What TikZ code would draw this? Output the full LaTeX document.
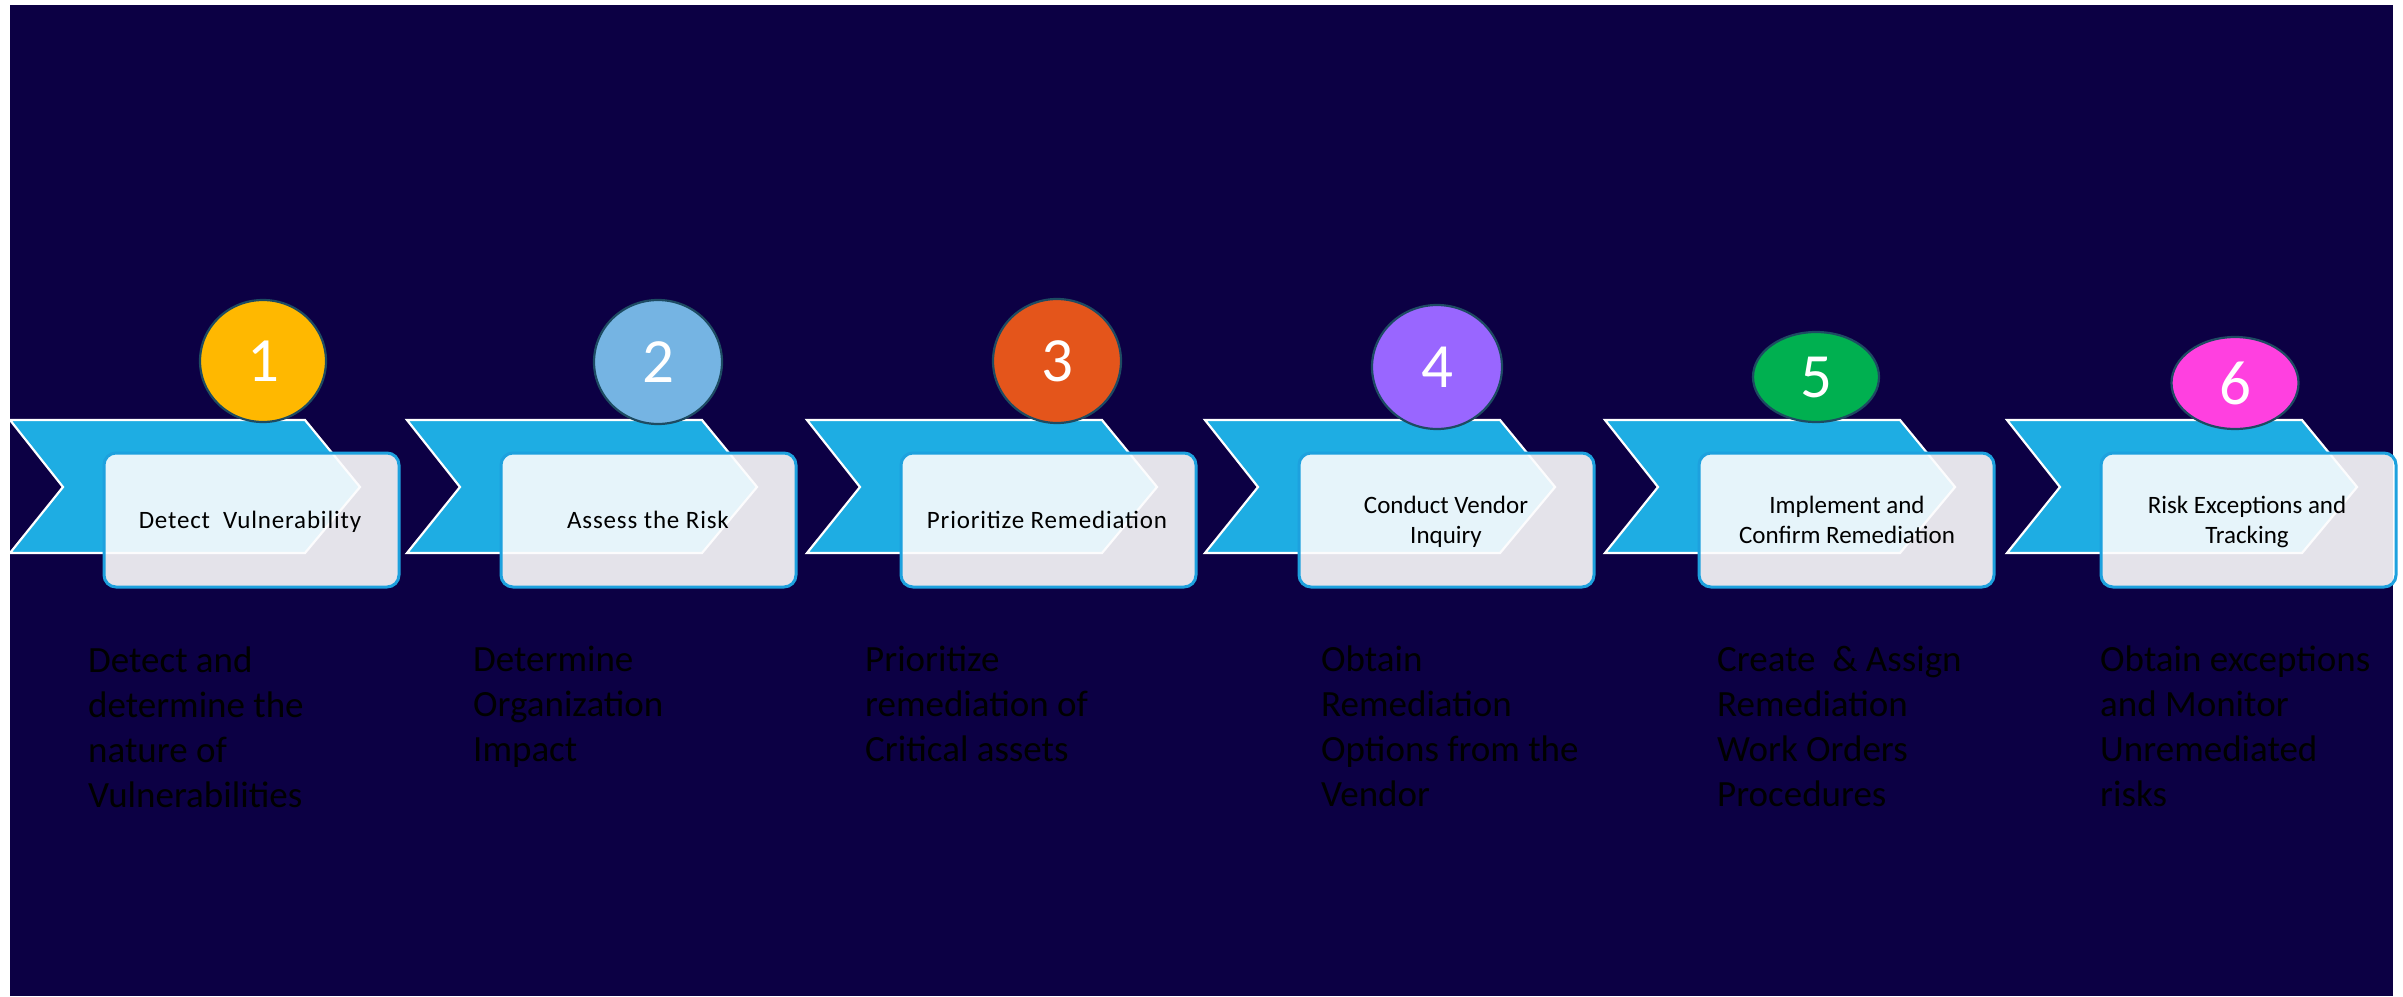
\documentclass[tikz,border=0pt]{standalone}
\usepackage{fontspec}
\setmainfont{Carlito}
\newfontfamily\spacedfont[LetterSpace=3.3]{Carlito}
\usetikzlibrary{shapes.geometric}
\definecolor{pagenavy}{HTML}{0C0044}
\definecolor{chevblue}{HTML}{1EADE3}
\definecolor{cardedge}{HTML}{1DA1DE}
\definecolor{cardfill}{RGB}{252,252,253}
\definecolor{ringedge}{HTML}{1D4B62}
\definecolor{cA}{HTML}{FFB800}
\definecolor{cB}{HTML}{75B4E3}
\definecolor{cC}{HTML}{E4551B}
\definecolor{cD}{HTML}{9966FF}
\definecolor{cE}{HTML}{00B050}
\definecolor{cF}{HTML}{FF40E0}
\tikzset{
  chev/.style={fill=chevblue, draw=white, line width=2.2pt, line join=miter},
  card/.style={rectangle, rounded corners=12pt, draw=cardedge, line width=3pt,
    fill=cardfill, fill opacity=0.9, minimum width=295pt, minimum height=134pt,
    inner sep=0pt},
  badge/.style={ellipse, draw=ringedge, line width=2.2pt, inner sep=0pt,
    text=white, font=\fontsize{63}{70}\selectfont},
  steplabel/.style={inner sep=0pt, text=black, align=center,
    font=\fontsize{25}{30}\selectfont},
  spacedlabel/.style={steplabel, font=\spacedfont\fontsize{25}{30}\selectfont},
  desc/.style={inner sep=0pt, text=black, align=left, anchor=north west,
    font=\fontsize{37}{45}\selectfont},
}
\begin{document}
\begin{tikzpicture}[x=1pt,y=-1pt]
\useasboundingbox (0,0) rectangle (2403,996);
\fill[white] (0,0) rectangle (2403,996);
\fill[pagenavy] (10,5) rectangle (2393,996);

% chevrons and cards, one per step
\foreach \L/\n in {10/1,407/2,807/3,1205/4,1605/5,2007/6}{
  \draw[chev] (\L,420) -- ++(295,0) -- ++(55,67) -- ++(-55,66) -- ++(-295,0)
    -- ++(53,-66) -- cycle;
  \node[card] (card\n) at (\L+241.5,520) {};
}

% numbered badges
\node[badge, fill=cA, minimum width=126pt, minimum height=122pt] (b1) at (263,361) {1};
\node[badge, fill=cB, minimum width=128pt, minimum height=124pt] (b2) at (658,362) {2};
\node[badge, fill=cC, minimum width=128pt, minimum height=124pt] (b3) at (1057,361) {3};
\node[badge, fill=cD, minimum width=130pt, minimum height=124pt] (b4) at (1437,367) {4};
\node[badge, fill=cE, minimum width=126pt, minimum height=90pt] (b5) at (1816,377) {5};
\node[badge, fill=cF, minimum width=127pt, minimum height=92pt] (b6) at (2235,383) {6};

% step titles
\node[spacedlabel, anchor=base] (t1) at (250,528) {Detect\ \ Vulnerability};
\node[spacedlabel, anchor=base] (t2) at (648,528) {Assess the Risk};
\node[spacedlabel, anchor=base] (t3) at (1047,528) {Prioritize Remediation};
\node[steplabel, anchor=north] (t4) at (1446,513-21) {\strut Conduct Vendor\\Inquiry};
\node[steplabel, anchor=north] (t5) at (1847,513-21) {\strut Implement and\\Confirm Remediation};
\node[steplabel, anchor=north] (t6) at (2247,513-21) {\strut Risk Exceptions and\\Tracking};

% descriptions under the steps
\node[desc] (d1) at (88,672-31.5)
  {\strut Detect and\\determine the\\nature of\\Vulnerabilities};
\node[desc] (d2) at (473,671-31.5)
  {\strut Determine\\Organization\\Impact};
\node[desc] (d3) at (865,671-31.5)
  {\strut Prioritize\\remediation of\\Critical assets};
\node[desc] (d4) at (1321,671-31.5)
  {\strut Obtain\\Remediation\\Options from the\\Vendor};
\node[desc] (d5) at (1717,671-31.5)
  {\strut Create\ \ \& Assign\\Remediation\\Work Orders\\Procedures};
\node[desc] (d6) at (2100,671-31.5)
  {\strut Obtain exceptions\\and Monitor\\Unremediated\\risks};
\end{tikzpicture}
\end{document}
